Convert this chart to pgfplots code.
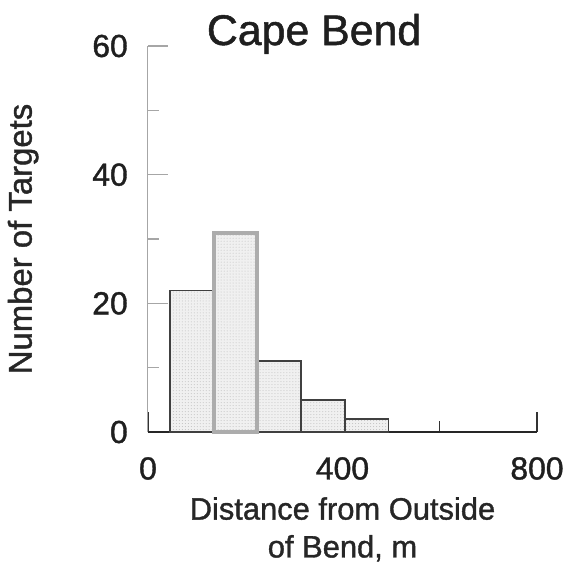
\documentclass[border=0pt]{standalone}
\usepackage{pgfplots}
\pgfplotsset{compat=1.18}
\usetikzlibrary{patterns}
\usepackage{fontspec}
\setmainfont{Liberation Sans}[FakeBold=1.2]
\begin{document}
\begin{tikzpicture}
\begin{axis}[name=ax,
 scale only axis, width=389bp, height=386bp,
 xmin=0, xmax=800, ymin=0, ymax=60,
 axis x line=bottom, axis y line=left,
 axis line style={-},
 x axis line style={black!85, line width=1.3bp},
 y axis line style={gray!70, line width=1bp},
 xtick={0,400,800}, minor xtick={200,600},
 ytick={0,20,40,60}, minor ytick={10,30,50},
 tick align=inside,
 major tick length=20bp, minor tick length=11bp,
 xtick style={black!80, line width=1.2bp},
 ytick style={gray!70, line width=1.6bp},
 /pgf/number format/assume math mode=true,
 ticklabel style={font=\fontsize{32}{32}\selectfont, text=black!88},
 yticklabel style={inner sep=0pt, xshift=-20bp},
 xticklabel style={inner sep=0pt, yshift=-25bp, anchor=north},
 every axis y label/.style={at={(axis description cs:-0.321,0.5)}, rotate=90, anchor=center, font=\fontsize{33}{33}\selectfont, text=black!85},
 every axis x label/.style={at={(axis description cs:0.5,0)}, anchor=north, yshift=-65bp, align=center, inner sep=0pt, font=\fontsize{31}{38}\selectfont, text=black!85},
 every axis title/.style={at={(axis description cs:0.427,1)}, anchor=base, yshift=1bp, inner sep=0pt, font=\fontsize{43}{43}\selectfont, text=black!88},
 title={Cape Bend},
 xlabel={Distance from Outside\\of Bend, m},
 ylabel={Number of Targets},
 clip=false,
]
\addplot[ybar interval, draw=black!75, line width=1.5bp, fill=gray!12,
  postaction={pattern=dots, pattern color=gray!50}]
  coordinates {(45,22) (135,31) (225,11) (315,5) (405,2) (495,0)};
\addplot[ybar interval, draw=gray!65, line width=4bp, fill=none]
  coordinates {(135,31) (225,31)};
\end{axis}
\pgfresetboundingbox
\path[use as bounding box] (ax.south west) ++(-148bp,-135bp) rectangle ++(570bp,567bp);
\end{tikzpicture}
\end{document}
